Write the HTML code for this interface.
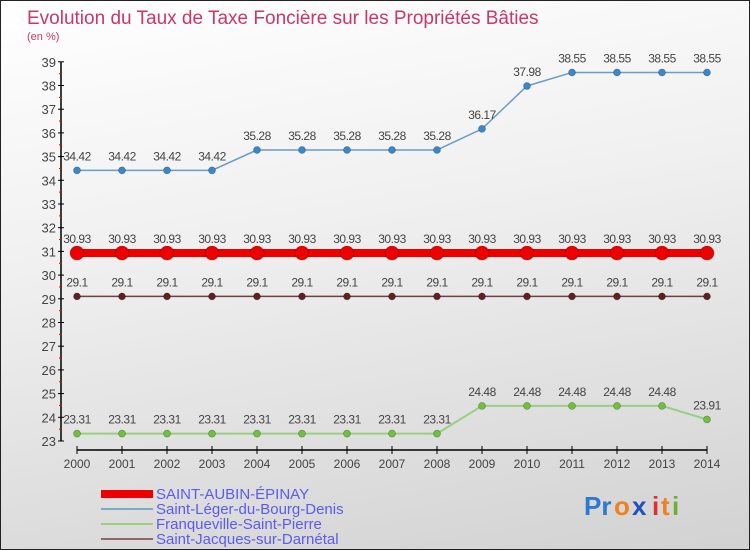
<!DOCTYPE html>
<html><head><meta charset="utf-8"><style>
body{margin:0}
#c{width:748px;height:548px;border:1px solid #222;background:linear-gradient(170deg,#fff 0%,#f0f0f0 40%,#d2d2d2 100%);position:relative;overflow:hidden;font-family:"Liberation Sans",sans-serif}
svg{position:absolute;left:0;top:0}
</style></head><body>
<div id="c">
<svg id="s" width="750" height="550">
<text x="26" y="23" font-size="19" fill="#c8386a">Evolution du Taux de Taxe Foncière sur les Propriétés Bâties</text>
<text x="26" y="39" font-size="11" fill="#c8386a">(en %)</text>
<g id="axes"></g><g id="plot"></g>
<g>
<rect x="100" y="489" width="52" height="8" fill="#e00"/>
<text x="155" y="498" font-size="15" fill="#5b5bf0">SAINT-AUBIN-ÉPINAY</text>
<rect x="100" y="507" width="52" height="2" fill="#7aaac8"/>
<text x="155" y="513" font-size="15" fill="#5b5bf0">Saint-Léger-du-Bourg-Denis</text>
<rect x="100" y="522" width="52" height="2" fill="#98d080"/>
<text x="155" y="528" font-size="15" fill="#5b5bf0">Franqueville-Saint-Pierre</text>
<rect x="100" y="537" width="52" height="2" fill="#906868"/>
<text x="155" y="543" font-size="15" fill="#5b5bf0">Saint-Jacques-sur-Darnétal</text>
</g>
<g font-size="26" font-weight="bold">
<text x="583" y="514" fill="#2a7ad0">Pr</text><text x="613" y="514" fill="#f08020">o</text><text x="631" y="514" fill="#2050c0">x</text><text x="651" y="514" fill="#e03030">i</text><text x="660" y="514" fill="#f08020">t</text><text x="671" y="514" fill="#70b030">i</text>
</g>
</svg>
</div>
<script>
const years=[2000,2001,2002,2003,2004,2005,2006,2007,2008,2009,2010,2011,2012,2013,2014];
const yTicks=[23,24,25,26,27,28,29,30,31,32,33,34,35,36,37,38,39];
const stAubin=[30.93,30.93,30.93,30.93,30.93,30.93,30.93,30.93,30.93,30.93,30.93,30.93,30.93,30.93,30.93];
const stLeger=[34.42,34.42,34.42,34.42,35.28,35.28,35.28,35.28,35.28,36.17,37.98,38.55,38.55,38.55,38.55];
const franq=[23.31,23.31,23.31,23.31,23.31,23.31,23.31,23.31,23.31,24.48,24.48,24.48,24.48,24.48,23.91];
const stJacques=[29.1,29.1,29.1,29.1,29.1,29.1,29.1,29.1,29.1,29.1,29.1,29.1,29.1,29.1,29.1];
const NS="http://www.w3.org/2000/svg";
const xS=i=>76+i*45;
const yS=v=>440-(v-23)*23.7;
function mk(p,t,a){const e=document.createElementNS(NS,t);for(const k in a)e.setAttribute(k,a[k]);p.appendChild(e);return e;}
const ax=document.getElementById('axes'),pl=document.getElementById('plot');
let e=mk(ax,'line',{x1:60,y1:yS(39),x2:60,y2:yS(23),stroke:'#000','stroke-width':1.5});


yTicks.forEach(v=>{
 mk(ax,'line',{x1:57,x2:63,y1:yS(v),y2:yS(v),stroke:'#000'});
 if(v<39)mk(ax,'line',{x1:58,x2:61,y1:yS(v+0.5),y2:yS(v+0.5),stroke:'#e00'});
 const t=mk(ax,'text',{x:55,y:yS(v)+5,'text-anchor':'end','font-size':13,fill:'#444'});t.textContent=v;
 
 
});
e=mk(ax,'line',{x1:xS(0),x2:xS(14),y1:449,y2:449,stroke:'#000','stroke-width':1.5});


years.forEach((y,i)=>{
 mk(ax,'line',{x1:xS(i),x2:xS(i),y1:445,y2:453,stroke:'#000'});
 const t=mk(ax,'text',{x:xS(i),y:467,'text-anchor':'middle','font-size':12,fill:'#444'});t.textContent=y;
 
 
});
function series(data,name,line,lw,fill,r,fmt){
 const g=mk(pl,'g',{});
 
 
 mk(g,'polyline',{points:data.map((v,i)=>xS(i)+','+yS(v)).join(' '),fill:'none',stroke:line,'stroke-width':lw});
 data.forEach((v,i)=>{
  const c=mk(g,'circle',{cx:xS(i),cy:yS(v),r:r,fill:fill,stroke:'rgba(0,0,0,0.3)','stroke-width':0.7});
  
  
  const t=mk(g,'text',{x:xS(i),y:yS(v)-10,'text-anchor':'middle','font-size':12,fill:'#444','letter-spacing':'-0.5'});t.textContent=v;
  
  
 });
}
series(stLeger,'saint-leger-series','#6a9cc8',1.5,'#3a88cc',3.5);
series(stJacques,'saint-jacques-series','#704040',1.5,'#602020',3.5);
series(franq,'franqueville-series','#98d080',2,'#70c040',3.5);
series(stAubin,'saint-aubin-series','#e00',8,'#e00',7);
</script>
</body></html>
